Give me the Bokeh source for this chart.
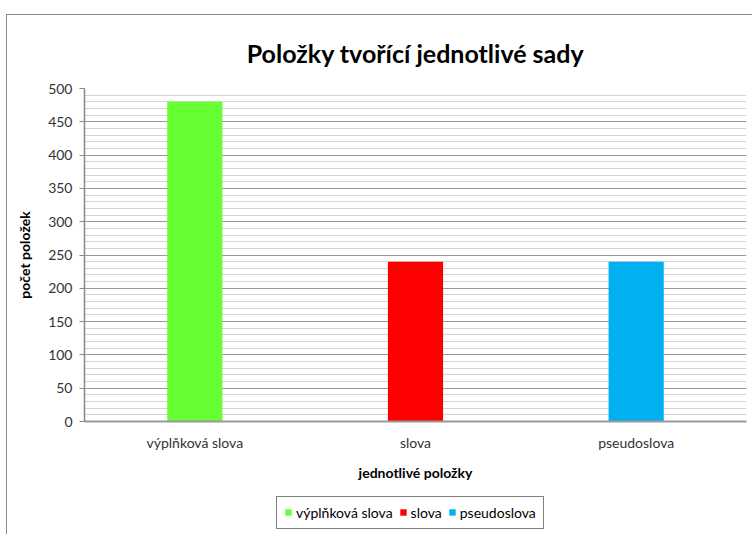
from bokeh.plotting import figure
from bokeh.layouts import column
from bokeh.models import (FactorRange, Range1d, SingleIntervalTicker,
                          Legend, LegendItem, Title)
from bokeh.embed import file_html
from bokeh.resources import INLINE

categories = ["výplňková slova", "slova", "pseudoslova"]
values = [480, 240, 240]
colors = ["#66FF33", "#FF0000", "#00B0F0"]
title_text = "Položky tvořící jednotlivé sady"
y_label = "počet položek"
x_label = "jednotlivé položky"

FONT = "Lato"

p = figure(frame_width=662, frame_height=333, output_backend="svg", toolbar_location=None,
           x_range=FactorRange(*categories, range_padding=0),
           y_range=Range1d(0, 500),
           min_border_left=77, min_border_right=6, min_border_top=71, min_border_bottom=70)

p.title = Title(text=title_text, align="center", text_font=FONT, text_font_size="25px",
                text_font_style="bold", text_color="#000000", standoff=41)

for i, c in enumerate(categories):
    p.vbar(x=[c], top=[values[i]], width=0.25, color=colors[i], line_color=None)

p.outline_line_color = None
p.background_fill_color = "white"
p.border_fill_color = "white"

# y axis
p.yaxis.ticker = SingleIntervalTicker(interval=50, num_minor_ticks=5)
p.yaxis.axis_line_color = "#888888"
p.yaxis.axis_line_width = 1.5
p.yaxis.major_tick_line_color = "#888888"
p.yaxis.major_tick_out = 5
p.yaxis.major_tick_in = 0
p.yaxis.minor_tick_line_color = None
p.yaxis.major_label_text_font = FONT
p.yaxis.major_label_text_font_size = "14px"
p.yaxis.major_label_text_color = "#333333"
p.yaxis.major_label_standoff = 7
p.yaxis.axis_label = y_label
p.yaxis.axis_label_text_font = FONT
p.yaxis.axis_label_text_font_size = "14px"
p.yaxis.axis_label_text_font_style = "bold"
p.yaxis.axis_label_text_color = "#000000"
p.yaxis.axis_label_standoff = 12

# x axis
p.xaxis.axis_line_color = "#999999"
p.xaxis.axis_line_width = 2
p.xaxis.major_tick_line_color = None
p.xaxis.minor_tick_line_color = None
p.xaxis.major_label_text_font = FONT
p.xaxis.major_label_text_font_size = "14px"
p.xaxis.major_label_text_color = "#333333"
p.xaxis.major_label_standoff = 6
p.xaxis.axis_label = x_label
p.xaxis.axis_label_text_font = FONT
p.xaxis.axis_label_text_font_size = "14px"
p.xaxis.axis_label_text_font_style = "bold"
p.xaxis.axis_label_text_color = "#000000"
p.xaxis.axis_label_standoff = 10

# grid
p.xgrid.grid_line_color = None
p.ygrid.grid_line_color = "#999999"
p.ygrid.grid_line_width = 1.2
p.ygrid.minor_grid_line_color = "#d4d4d4"
p.ygrid.minor_grid_line_width = 1.2

# legend strip (separate small figure below the chart)
lf = figure(width=745, height=45, output_backend="svg", toolbar_location=None,
            x_range=Range1d(0, 1), y_range=Range1d(0, 1),
            min_border=0, min_border_left=0, min_border_right=0,
            min_border_top=0, min_border_bottom=0)
lf.axis.visible = False
lf.grid.visible = False
lf.outline_line_color = None
lf.background_fill_color = "white"
lf.border_fill_color = "white"

# off-screen swatch glyphs so the legend can draw coloured squares
leg_renderers = [lf.vbar(x=[-10], top=[0], width=0.25, color=col, line_color=None) for col in colors]

legend = Legend(items=[LegendItem(label=c, renderers=[r]) for c, r in zip(categories, leg_renderers)],
                orientation="horizontal", location=(192, 7), margin=0,
                label_text_font=FONT, label_text_font_size="14px", label_text_color="#000000",
                glyph_width=8, glyph_height=8, label_standoff=4, spacing=6, padding=7,
                label_height=16,
                border_line_color="#000000", border_line_width=1,
                background_fill_color="white", background_fill_alpha=1)
lf.add_layout(legend, "center")

layout = column(p, lf, spacing=0,
                styles={"border-left": "1.5px solid #8a8a8a", "border-top": "1.5px solid #8a8a8a",
                        "margin-left": "6px", "margin-top": "13.5px"})

open("out.html", "w").write(file_html(layout, INLINE))
